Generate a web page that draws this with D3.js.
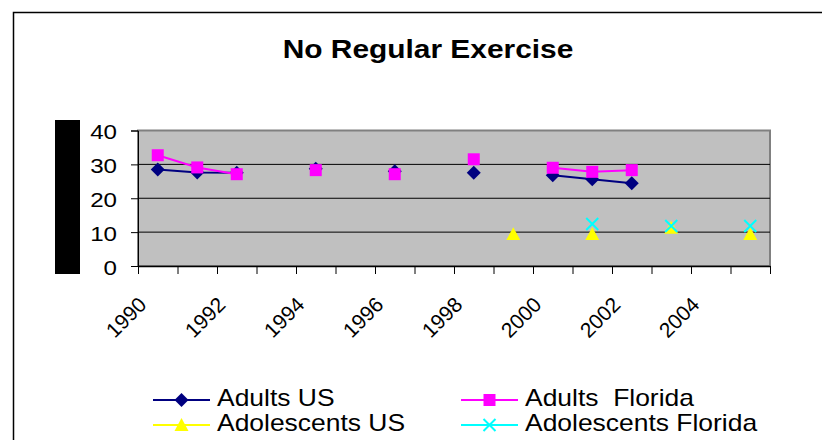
<!DOCTYPE html>
<html>
<head>
<meta charset="utf-8">
<script src="https://cdn.jsdelivr.net/npm/d3@7"></script>
<style>
  body { margin: 0; background: #fff; }
  text { font-family: "Liberation Sans", Arial, sans-serif; fill: #000; white-space: pre; }
</style>
</head>
<body>
<div id="chart"></div>
<script>
  // data, null = no survey that year
  var years = [1990, 1991, 1992, 1993, 1994, 1995, 1996, 1997, 1998, 1999, 2000, 2001, 2002, 2003, 2004, 2005];
  var adultsUS = [28.5, 27.6, 27.5, null, 28.7, null, 28.0, null, 27.5, null, 26.8, 25.6, 24.4, null, null, null];
  var adultsFL = [32.7, 29.1, 27.1, null, 28.3, null, 27.1, null, 31.5, null, 29.0, 27.8, 28.3, null, null, null];
  var adolUS = [null, null, null, null, null, null, null, null, null, 9.4, null, 9.4, null, 11.3, null, 9.4];
  var adolFL = [null, null, null, null, null, null, null, null, null, null, null, 12.4, null, 11.8, null, 11.8];
  var yTicks = [0, 10, 20, 30, 40];
  var labelYears = [1990, 1992, 1994, 1996, 1998, 2000, 2002, 2004];

  var W = 822, H = 440;
  var plot = { left: 138, right: 770, top: 130.5, bottom: 266 };
  var stretch = 1.15; // text in the picture is a bit wide

  var svg = d3.select('#chart').append('svg')
    .attr('width', W)
    .attr('height', H);

  // outer chart frame (runs off the right and bottom)
  svg.append('rect')
    .attr('x', 13.5).attr('y', 12.5)
    .attr('width', 900).attr('height', 500)
    .attr('fill', 'none')
    .attr('stroke', '#000')
    .attr('stroke-width', 1.5);

  svg.append('text')
    .attr('transform', 'translate(428,58) scale(' + stretch + ',1)')
    .attr('text-anchor', 'middle')
    .style('font-size', '26px')
    .style('font-weight', 'bold')
    .text('No Regular Exercise');

  var x = d3.scaleBand()
    .domain(years)
    .range([plot.left, plot.right])
    .padding(0);
  var xEdge = d3.scaleLinear()
    .domain([0, years.length])
    .range([plot.left, plot.right]);
  var y = d3.scaleLinear()
    .domain([0, 40])
    .range([plot.bottom, plot.top]);

  // plot background
  svg.append('rect')
    .attr('x', plot.left).attr('y', plot.top)
    .attr('width', plot.right - plot.left)
    .attr('height', plot.bottom - plot.top)
    .attr('fill', '#c0c0c0')
    .attr('stroke', '#808080')
    .attr('stroke-width', 2);

  // gridlines
  svg.selectAll('.grid')
    .data(yTicks.filter(d => d > 0 && d < 40))
    .enter()
    .append('line')
    .attr('class', 'grid')
    .attr('x1', plot.left).attr('x2', plot.right)
    .attr('y1', d => y(d)).attr('y2', d => y(d))
    .attr('stroke', '#000')
    .attr('stroke-width', 1);

  // black block left of the y axis
  svg.append('rect')
    .attr('x', 55).attr('y', 120)
    .attr('width', 25).attr('height', 154)
    .attr('fill', '#000');

  var yAxis = d3.axisLeft(y)
    .tickValues(yTicks)
    .tickSize(7)
    .tickPadding(0)
    .tickFormat(d3.format('d'));

  var gy = svg.append('g')
    .attr('transform', 'translate(' + plot.left + ',0)')
    .call(yAxis);
  gy.select('.domain').attr('stroke', '#000');
  gy.selectAll('.tick line').attr('stroke', '#000');
  gy.selectAll('.tick text')
    .attr('x', null)
    .attr('dy', null)
    .attr('transform', 'translate(-21,8) scale(' + stretch + ',1)')
    .style('font-size', '21px')
    .style('font-family', '"Liberation Sans", Arial, sans-serif')
    .attr('fill', '#000');

  var xAxis = d3.axisBottom(xEdge)
    .tickValues(d3.range(0, years.length + 1))
    .tickSize(8)
    .tickSizeOuter(0)
    .tickFormat('');

  var gx = svg.append('g')
    .attr('transform', 'translate(0,' + plot.bottom + ')')
    .call(xAxis);
  gx.select('.domain').attr('stroke', '#000').attr('stroke-width', 1.5);
  gx.selectAll('.tick line').attr('stroke', '#000');

  svg.selectAll('.xlabel')
    .data(labelYears)
    .enter()
    .append('text')
    .attr('class', 'xlabel')
    .attr('text-anchor', 'end')
    .attr('transform', d => 'translate(' + (x(d) + x.bandwidth() / 2 - 10) + ',306) rotate(-45)')
    .style('font-size', '21px')
    .text(d => d);

  var series = [
    { name: 'Adults US', values: adultsUS, color: '#000080', symbol: 'diamond', size: 7 },
    { name: 'Adults  Florida', values: adultsFL, color: '#ff00ff', symbol: 'square', size: 6 },
    { name: 'Adolescents US', values: adolUS, color: '#ffff00', symbol: 'triangle', size: 7 },
    { name: 'Adolescents Florida', values: adolFL, color: '#00ffff', symbol: 'x', size: 6 }
  ];

  var line = d3.line()
    .defined(d => d.v != null)
    .x(d => x(d.year) + x.bandwidth() / 2)
    .y(d => y(d.v));

  function markerPath(type, r) {
    if (type === 'diamond') return 'M0,' + (-r) + 'L' + r + ',0L0,' + r + 'L' + (-r) + ',0Z';
    if (type === 'square') return 'M' + (-r) + ',' + (-r) + 'H' + r + 'V' + r + 'H' + (-r) + 'Z';
    if (type === 'triangle') return 'M0,' + (-r) + 'L' + r + ',' + (r * 0.85) + 'L' + (-r) + ',' + (r * 0.85) + 'Z';
    return 'M' + (-r) + ',' + (-r) + 'L' + r + ',' + r + 'M' + (-r) + ',' + r + 'L' + r + ',' + (-r);
  }

  function drawMarker(g, s) {
    var p = g.append('path').attr('d', markerPath(s.symbol, s.size));
    if (s.symbol === 'x') {
      p.attr('stroke', s.color).attr('stroke-width', 2).attr('fill', 'none');
    } else {
      p.attr('fill', s.color);
    }
  }

  series.forEach(s => {
    var pts = years.map((yr, i) => ({ year: yr, v: s.values[i] }));
    svg.append('path')
      .datum(pts)
      .attr('fill', 'none')
      .attr('stroke', s.color)
      .attr('stroke-width', 2)
      .attr('d', line);

    pts.filter(d => d.v != null).forEach(d => {
      var g = svg.append('g')
        .attr('transform', 'translate(' + (x(d.year) + x.bandwidth() / 2) + ',' + y(d.v) + ')');
      drawMarker(g, s);
    });
  });

  // legend, two columns
  var legendPos = [
    { x: 153, y: 400 },
    { x: 461, y: 400 },
    { x: 153, y: 425 },
    { x: 461, y: 425 }
  ];

  series.forEach((s, i) => {
    var p = legendPos[i];
    var g = svg.append('g').attr('transform', 'translate(' + p.x + ',' + p.y + ')');
    g.append('line')
      .attr('x1', 0).attr('x2', 57)
      .attr('y1', 0).attr('y2', 0)
      .attr('stroke', s.color)
      .attr('stroke-width', 2);
    var m = g.append('g').attr('transform', 'translate(28.5,0)');
    drawMarker(m, s);
    g.append('text')
      .attr('transform', 'translate(64,6) scale(' + stretch + ',1)')
      .style('font-size', '23px')
      .text(s.name);
  });
</script>
</body>
</html>
